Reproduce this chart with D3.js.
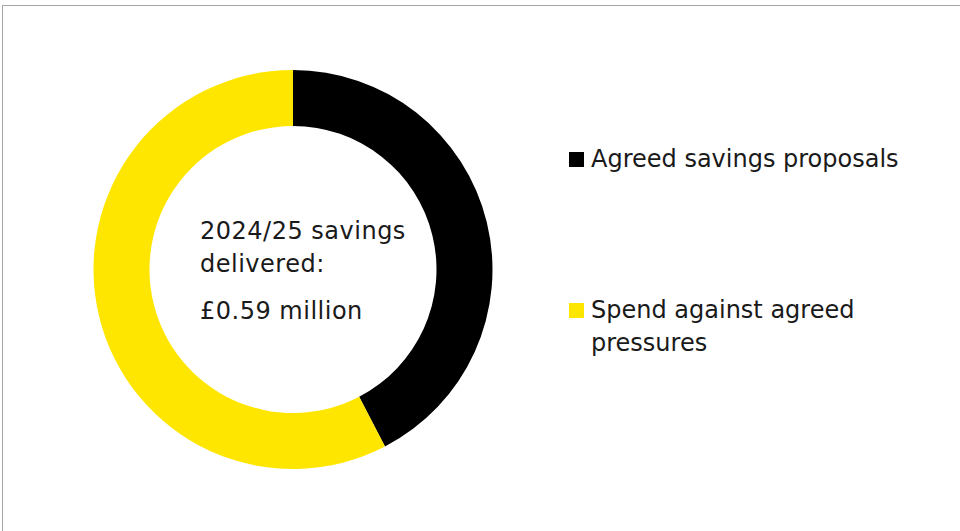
<!DOCTYPE html>
<html>
<head>
<meta charset="utf-8">
<script src="https://cdn.jsdelivr.net/npm/d3@7"></script>
<style>
  body { margin: 0; background: #fff; }
  text { font-family: "DejaVu Sans", sans-serif; fill: #1a1a1a; }
</style>
</head>
<body>
<div id="chart"></div>
<script>
// savings delivered 2024/25, £m
const categories = ['Agreed savings proposals', 'Spend against agreed pressures'];
const values = [0.25, 0.34];
const colours = ['#000000', '#FFE600'];
const centreLines = ['2024/25 savings', 'delivered:'];
const centreValue = '£0.59 million';

const W = 960, H = 531;
const svg = d3.select('#chart').append('svg')
  .attr('width', W)
  .attr('height', H);

// chart frame (runs off the right / bottom edge)
svg.append('rect')
  .attr('x', 2.5).attr('y', 5.5)
  .attr('width', W + 10).attr('height', H + 10)
  .attr('fill', 'none')
  .attr('stroke', '#a6a6a6')
  .attr('stroke-width', 1);

const cx = 293, cy = 269.5;
const outerR = 199.5, innerR = 143.5;

const pie = d3.pie().sort(null).value(d => d);
const arc = d3.arc().innerRadius(innerR).outerRadius(outerR);

const g = svg.append('g').attr('transform', `translate(${cx},${cy})`);
g.selectAll('path')
  .data(pie(values))
  .join('path')
  .attr('d', arc)
  .attr('fill', (d, i) => colours[i]);

// centre label
const lab = svg.append('g').attr('font-size', 24).attr('letter-spacing', 0.5);
lab.selectAll('.cl')
  .data(centreLines)
  .join('text')
  .classed('cl', true)
  .attr('x', 200)
  .attr('y', (d, i) => 239 + i * 33)
  .text(d => d);
lab.append('text')
  .attr('x', 200)
  .attr('y', 319)
  .text(centreValue);

// legend
const legendY = [167, 318];
const legendLines = [[categories[0]], ['Spend against agreed', 'pressures']];
const leg = svg.append('g').attr('font-size', 24);
const items = leg.selectAll('.item')
  .data(categories)
  .join('g')
  .classed('item', true)
  .attr('transform', (d, i) => `translate(569,${legendY[i]})`);
items.append('rect')
  .attr('x', 0).attr('y', -15)
  .attr('width', 15).attr('height', 15)
  .attr('fill', (d, i) => colours[i]);
items.each(function(d, i) {
  d3.select(this).selectAll('text')
    .data(legendLines[i])
    .join('text')
    .attr('x', 22)
    .attr('y', (t, j) => j * 33)
    .text(t => t);
});
</script>
</body>
</html>
